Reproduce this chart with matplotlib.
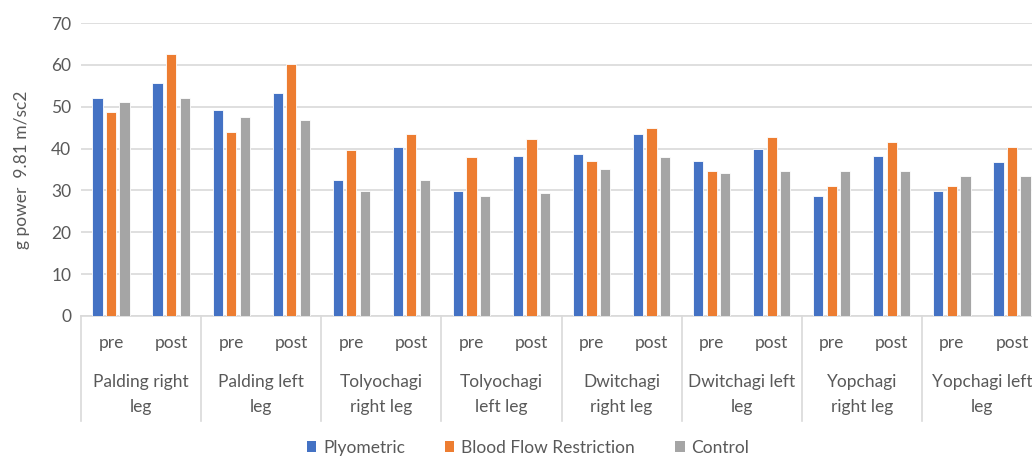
import numpy as np
import matplotlib.pyplot as plt
from matplotlib.patches import Patch
import matplotlib.transforms as mtransforms

# data
groups = ['Palding right\nleg', 'Palding left\nleg', 'Tolyochagi\nright leg',
          'Tolyochagi\nleft leg', 'Dwitchagi\nright leg', 'Dwitchagi left\nleg',
          'Yopchagi\nright leg', 'Yopchagi left\nleg']
phases = ['pre', 'post']

plyometric = [52.0, 55.7, 49.3, 53.2, 32.6, 40.4, 29.8, 38.3,
              38.7, 43.6, 37.0, 39.9, 28.7, 38.3, 29.8, 36.7]
bfr = [48.8, 62.5, 44.0, 60.1, 39.6, 43.6, 38.0, 42.4,
       37.1, 44.8, 34.6, 42.8, 31.0, 41.6, 31.0, 40.4]
control = [51.2, 52.0, 47.6, 46.8, 29.8, 32.6, 28.7, 29.5,
           35.1, 38.0, 34.2, 34.6, 34.6, 34.6, 33.4, 33.4]

series_names = ['Plyometric', 'Blood Flow Restriction', 'Control']
colors = ['#4472C4', '#ED7D31', '#A5A5A5']

plt.rcParams['font.family'] = ['Lato', 'DejaVu Sans']
text_col = '#595959'
grid_col = '#D9D9D9'
fs = 12.5

fig = plt.figure(figsize=(10.32, 4.57), dpi=100)
# axis runs a bit past the right edge, as in the reference
ax = fig.add_axes([81 / 1032, 141 / 457, 961 / 1032, 293 / 457])

x = np.arange(len(plyometric))
bw = 0.17
step = 0.225
for k, vals in enumerate([plyometric, bfr, control]):
    ax.bar(x + (k - 1) * step, vals, width=bw, color=colors[k],
           edgecolor='white', linewidth=0.6, zorder=3, label=series_names[k])

ax.set_xlim(-0.5, len(x) - 0.5)
ax.set_ylim(0, 70)
ax.set_yticks(np.arange(0, 71, 10))
ax.yaxis.grid(True, color=grid_col, linewidth=1.2, zorder=0)
ax.tick_params(axis='y', length=0, labelsize=fs, labelcolor=text_col, pad=7)
ax.set_xticks([])
for s in ['top', 'right', 'left']:
    ax.spines[s].set_visible(False)
ax.spines['bottom'].set_color(grid_col)
ax.spines['bottom'].set_linewidth(1.2)

ax.set_ylabel('g power  9.81 m/sc2', fontsize=fs, color=text_col, labelpad=15)

# multi-level category axis
trans = mtransforms.blended_transform_factory(ax.transData, ax.transAxes)
for i in range(len(x)):
    ax.text(x[i], -0.092, phases[i % 2], transform=trans, ha='center',
            va='center', fontsize=fs, color=text_col)
for g, name in enumerate(groups):
    ax.text(2 * g + 0.5, -0.268, name, transform=trans, ha='center',
            va='center', fontsize=fs, color=text_col, linespacing=1.75)
for g in range(len(groups) + 1):
    ax.plot([2 * g - 0.5, 2 * g - 0.5], [0, -0.36], transform=trans,
            color=grid_col, linewidth=1.2, clip_on=False)

handles = [Patch(facecolor=c) for c in colors]
leg = fig.legend(handles, series_names, loc='center',
                 bbox_to_anchor=(528 / 1032, 0.02), ncol=3, frameon=False,
                 handlelength=0.55, handleheight=0.55, handletextpad=0.4,
                 columnspacing=2.3, fontsize=12.5)
for t in leg.get_texts():
    t.set_color(text_col)

fig.savefig('out.png', dpi=100)
